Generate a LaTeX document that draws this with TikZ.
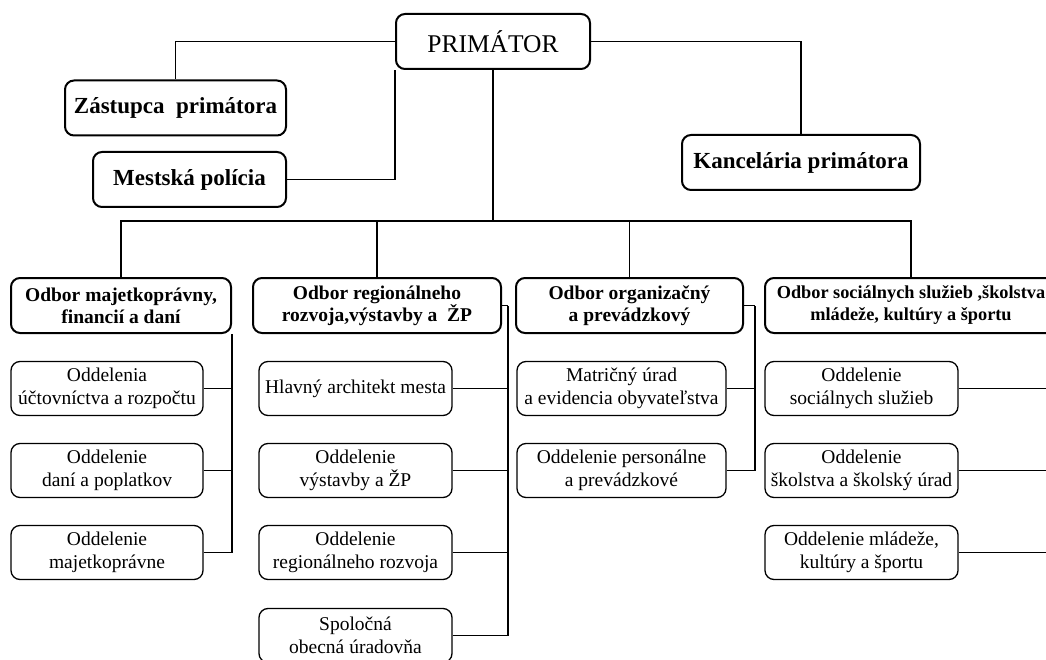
\documentclass[tikz,border=0pt]{standalone}
\usepackage{fontspec}
\setmainfont{Liberation Serif}
\usetikzlibrary{calc}
\tikzset{
    chief/.style={
    rectangle,rounded corners=9pt,draw=black,line width=2pt,inner sep=0pt,
    font=\fontsize{25.5}{28}\selectfont
    },
    leader/.style={
    rectangle,rounded corners=9pt,draw=black,line width=2pt,inner sep=0pt,
    minimum height=55pt,font=\fontsize{23}{26}\selectfont\bfseries
    },
    dept/.style={
    rectangle,rounded corners=9pt,draw=black,line width=2pt,inner sep=0pt,
    minimum height=55pt,align=center,font=\fontsize{19.5}{22}\selectfont\bfseries
    },
    unit/.style={
    rectangle,rounded corners=9pt,draw=black,line width=1.3pt,inner sep=0pt,
    minimum width=193pt,minimum height=54pt,align=center,font=\fontsize{19.5}{22.5}\selectfont
    },
    link/.style={
    draw=black,line width=1.3pt
    },
}

\begin{document}
\begin{tikzpicture}[x=1pt,y=-1pt]
   \useasboundingbox (0,0) rectangle (1046,660);
   \clip (0,0) rectangle (1046,660);
   \fill[white] (0,0) rectangle (1046,660);

   \node[chief,minimum width=194pt,minimum height=55pt] (prim) at (493,41.5) {PRIMÁTOR};
   \node[leader,minimum width=221pt] (zast) at (175.5,108) {Zástupca\ \ primátora};
   \node[leader,minimum width=193pt] (mest) at (189.5,179.5) {Mestská polícia};
   \node[leader,minimum width=238pt] (kanc) at (801,162.5) {Kancelária primátora};
   \coordinate (bus) at (493,221);

   \node[dept,minimum width=220pt] (om) at (121,305.5) {Odbor majetkoprávny,\\ financií a daní};
   \node[dept,minimum width=248pt] (or) at (377,305.5) {Odbor regionálneho\\ rozvoja,výstavby a~~ŽP};
   \node[dept,minimum width=227pt] (oo) at (629.5,305.5) {Odbor organizačný\\ a prevádzkový};
   \node[dept,minimum width=292pt,font=\fontsize{18.3}{22}\selectfont\bfseries] (os) at (911,305.5) {Odbor sociálnych služieb ,školstva\\ mládeže, kultúry a športu};

   \node[unit,minimum width=192pt] (om1) at (107,388.5) {Oddelenia\\ účtovníctva a rozpočtu};
   \node[unit,minimum width=192pt] (om2) at (107,470.5) {Oddelenie\\ daní a poplatkov};
   \node[unit,minimum width=192pt] (om3) at (107,552.5) {Oddelenie\\ majetkoprávne};

   \node[unit] (or1) at (355.5,388.5) {Hlavný architekt mesta};
   \node[unit] (or2) at (355.5,470.5) {Oddelenie\\ výstavby a ŽP};
   \node[unit] (or3) at (355.5,552.5) {Oddelenie\\ regionálneho rozvoja};
   \node[unit] (or4) at (355.5,635.5) {Spoločná\\ obecná úradovňa};

   \node[unit,minimum width=209pt] (oo1) at (621.5,388.5) {Matričný úrad\\ a evidencia obyvateľstva};
   \node[unit,minimum width=209pt] (oo2) at (621.5,470.5) {Oddelenie personálne\\ a prevádzkové};

   \node[unit] (os1) at (861.5,388.5) {Oddelenie\\ sociálnych služieb};
   \node[unit] (os2) at (861.5,470.5) {Oddelenie\\ školstva a školský úrad};
   \node[unit] (os3) at (861.5,552.5) {Oddelenie mládeže,\\ kultúry a športu};

  \path[link]
    (prim.west) -| (zast.north)
    (mest.east) -| (prim.south west)
    (prim.east) -| (kanc.north)
    (prim.south) -- (bus);
  \foreach \d in {om,or,oo,os}
    \path[link] (bus) -| (\d.north);

  \foreach \i in {1,2,3}
    \path[link] (om\i.east) -| (om.south east);
  \path[link] (or.east) -- ++(6,0) coordinate (orbar);
  \foreach \i in {1,...,4}
    \path[link] (or\i.east) -| (orbar);
  \path[link] (oo.east) -- ++(11,0) coordinate (oobar);
  \foreach \i in {1,2}
    \path[link] (oo\i.east) -| (oobar);
  \path[link] (os.east) -- ++(10,0) coordinate (osbar);
  \foreach \i in {1,2,3}
    \path[link] (os\i.east) -| (osbar);
\end{tikzpicture}
\end{document}
